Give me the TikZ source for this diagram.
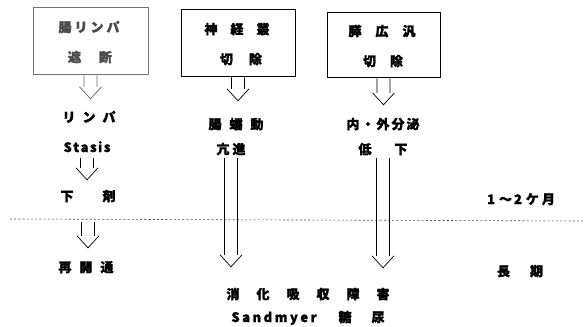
\documentclass[tikz,border=0pt]{standalone}
\usepackage{fontspec}
\newfontfamily\jp{Noto Sans CJK JP}[BoldFeatures={FakeBold=1.6}]
\usetikzlibrary{calc}
\tikzset{
  box/.style={draw, line width=1pt, inner sep=0},
  txt/.style={font=\jp\bfseries\fontsize{13}{13}\selectfont, inner sep=0, text height=10pt, text depth=2pt, anchor=center},
  harr/.style={draw, line width=0.7pt},
  dotline/.style={draw, line width=0.6pt, black!70, dash pattern=on 2pt off 2.2pt},
}
\newcommand{\harrow}[2]{\draw[harr] let \p1=#1, \p2=#2 in
  (\x1-6.5pt,\y1) -- (\x1-6.5pt,\y2+12pt)
  (\x1+6.5pt,\y1) -- (\x1+6.5pt,\y2+12pt)
  (\x1-11pt,\y2+12pt) -- (\x1,\y2) -- (\x1+11pt,\y2+12pt);}
\begin{document}
\begin{tikzpicture}[x=1pt,y=-1pt]
\useasboundingbox (0,0) rectangle (585,326);
\fill[white] (0,0) rectangle (585,326);
% boxes
\node[box, draw=black!55, minimum width=115pt, minimum height=67pt] (b1) at (90.5,41.5) {};
\node[box, minimum width=114pt, minimum height=67pt] (b2) at (238,43.5) {};
\node[box, minimum width=113pt, minimum height=65pt] (b3) at (383.5,45.5) {};
\node[txt, text=black!70] (t11) at (89,28) {腸\hspace{3pt}リ\hspace{3pt}ン\hspace{3pt}パ};
\node[txt, text=black!70] (t12) at (90,58) {遮\hspace{18pt}断};
\node[txt] (t21) at (237,30) {神\hspace{13pt}経\hspace{13pt}叢};
\node[txt] (t22) at (241,60) {切\hspace{16pt}除};
\node[txt] (t31) at (382,32) {膵\hspace{14pt}広\hspace{14pt}汎};
\node[txt] (t32) at (383,62) {切\hspace{14pt}除};
% texts
\node[txt] (lympha) at (89,118) {リ\hspace{7pt}ン\hspace{7pt}パ};
\node[txt] (stasis) at (87,148) {S\hspace{1.5pt}t\hspace{1.5pt}a\hspace{1.5pt}s\hspace{1.5pt}i\hspace{1.5pt}s};
\node[txt] (gezai) at (88,197) {下\hspace{29pt}剤};
\node[txt] (saikai) at (86,268) {再\hspace{8pt}開\hspace{8pt}通};
\node[txt] (zendo) at (236,125) {腸\hspace{8pt}蠕\hspace{8pt}動};
\node[txt] (koshin) at (231,150) {亢\hspace{3pt}進};
\node[txt] (naigai) at (383,125) {内\hspace{2pt}・\hspace{2pt}外\hspace{2pt}分\hspace{2pt}泌};
\node[txt] (teika) at (383,150) {低\hspace{23pt}下};
\node[txt] (month) at (521,200) {1\hspace{4pt}〜\hspace{2pt}2\hspace{4pt}ケ\hspace{3pt}月};
\node[txt] (choki) at (520,272) {長\hspace{20pt}期};
\node[txt] (shoka) at (308,295) {消\hspace{17pt}化\hspace{17pt}吸\hspace{17pt}収\hspace{17pt}障\hspace{17pt}害};
\node[txt] (sand) at (308,318) {S\hspace{2.5pt}a\hspace{2.5pt}n\hspace{2.5pt}d\hspace{2.5pt}m\hspace{2.5pt}y\hspace{2.5pt}e\hspace{2.5pt}r\hspace{22pt}糖\hspace{20pt}尿};
% dotted line
\coordinate (dl) at (10,219);
\coordinate (dr) at (585,221);
\draw[dotline] (dl) -- (dr);
% arrows
\begin{scope}[black!60]
\harrow{(b1.south)}{([yshift=13pt]lympha.north)}
\end{scope}
\harrow{(b2.south)}{([yshift=18pt]zendo.north)}
\harrow{(b3.south)}{([yshift=14pt]naigai.north)}
\harrow{([yshift=-4pt]stasis.south)}{([yshift=11pt]gezai.north)}
\harrow{([yshift=-19pt]gezai.south)}{([yshift=14pt]saikai.north)}
\harrow{([yshift=-2pt]koshin.south)}{([yshift=22pt]shoka.north)}
\harrow{([yshift=-2pt]teika.south)}{([yshift=21pt]shoka.north)}
\end{tikzpicture}
\end{document}
